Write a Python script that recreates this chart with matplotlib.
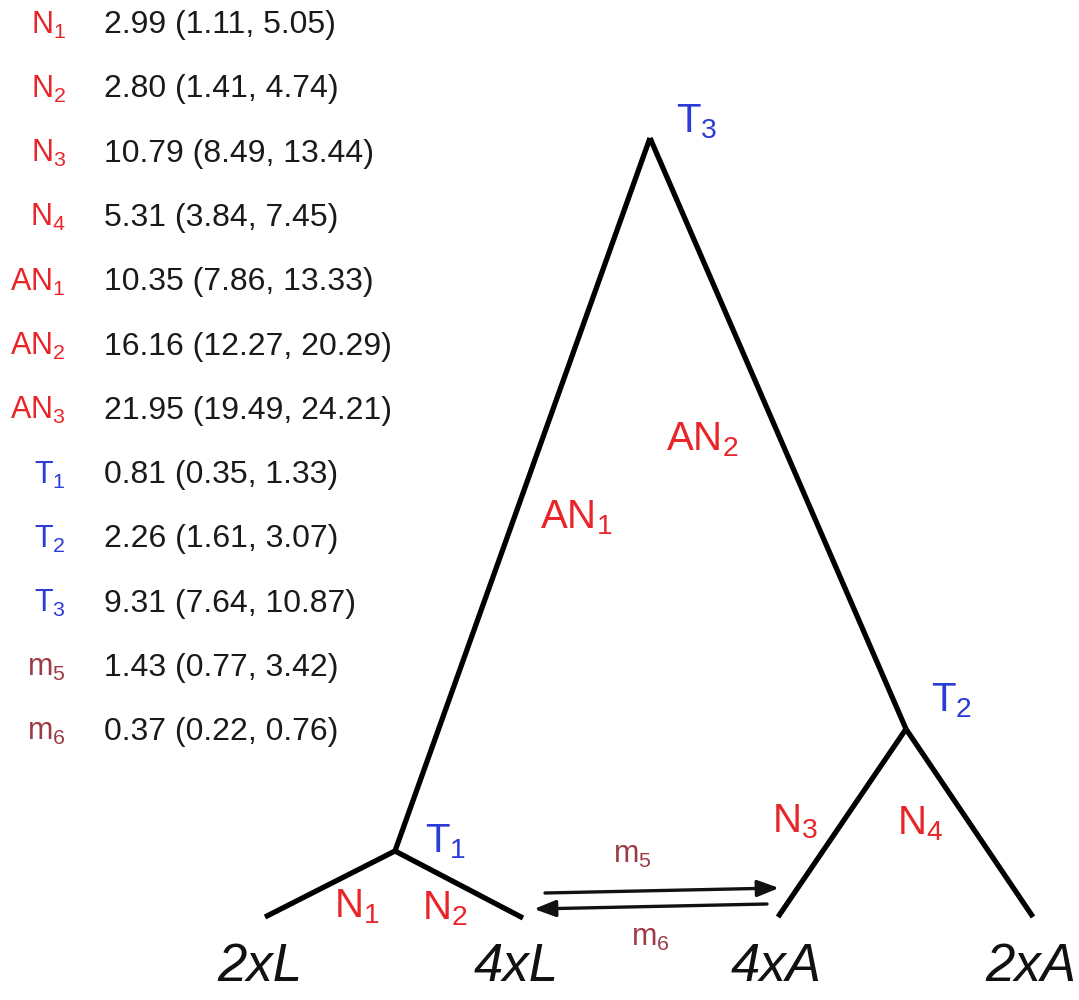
import matplotlib
matplotlib.use("Agg")
import matplotlib.pyplot as plt

plt.rcParams['font.family'] = ['Liberation Sans', 'DejaVu Sans']
plt.rcParams['mathtext.default'] = 'regular'

# ---- data ----
param_names = ["N$_1$", "N$_2$", "N$_3$", "N$_4$", "AN$_1$", "AN$_2$", "AN$_3$",
               "T$_1$", "T$_2$", "T$_3$", "m$_5$", "m$_6$"]
param_kind = ["N", "N", "N", "N", "N", "N", "N", "T", "T", "T", "m", "m"]
estimates = ["2.99", "2.80", "10.79", "5.31", "10.35", "16.16", "21.95",
             "0.81", "2.26", "9.31", "1.43", "0.37"]
ci_low = ["1.11", "1.41", "8.49", "3.84", "7.86", "12.27", "19.49",
          "0.35", "1.61", "7.64", "0.77", "0.22"]
ci_high = ["5.05", "4.74", "13.44", "7.45", "13.33", "20.29", "24.21",
           "1.33", "3.07", "10.87", "3.42", "0.76"]
populations = ["2xL", "4xL", "4xA", "2xA"]

RED = "#e8262a"
BLUE = "#2b3bd6"
MRED = "#9c3a45"
kind_color = {"N": RED, "T": BLUE, "m": MRED}

# ---- layout (pixel space) ----
W, H = 1079, 1000
fig = plt.figure(figsize=(W / 100, H / 100), dpi=100)
ax = fig.add_axes([0, 0, 1, 1])
ax.set_xlim(0, W)
ax.set_ylim(H, 0)
ax.axis("off")

# legend table
row0, dy = 25, 64.3
for i, (nm, k, e, lo, hi) in enumerate(zip(param_names, param_kind, estimates, ci_low, ci_high)):
    y = row0 + i * dy
    ax.text(66, y, nm, color=kind_color[k], fontsize=22, ha="right", va="center")
    ax.text(104, y, f"{e} ({lo}, {hi})", color="#1a1a1a", fontsize=23,
            ha="left", va="center")

# tree
nodes = {
    "T3": (650, 138), "T1": (395, 851), "T2": (906, 729),
    "2xL": (265, 917), "4xL": (523, 918), "4xA": (778, 917), "2xA": (1033, 917),
}
edges = [("T3", "T1"), ("T3", "T2"), ("T1", "2xL"), ("T1", "4xL"),
         ("T2", "4xA"), ("T2", "2xA")]
for a, b in edges:
    (x0, y0), (x1, y1) = nodes[a], nodes[b]
    ax.plot([x0, x1], [y0, y1], color="black", lw=3.8, solid_capstyle="butt",
            solid_joinstyle="miter")

# branch labels
tree_labels = [
    ("T$_3$", 697, 122, BLUE), ("AN$_2$", 702, 440, RED), ("AN$_1$", 576, 518, RED),
    ("T$_2$", 952, 701, BLUE), ("N$_3$", 795, 822, RED), ("N$_4$", 920, 824, RED),
    ("T$_1$", 446, 842, BLUE), ("N$_1$", 357, 907, RED), ("N$_2$", 445, 909, RED),
]
for txt, x, y, c in tree_labels:
    ax.text(x, y, txt, color=c, fontsize=29, ha="center", va="center")

# migration arrows
astyle = "-|>,head_length=1.3,head_width=0.5"
ax.annotate("", xy=(779, 888), xytext=(545, 893),
            arrowprops=dict(arrowstyle=astyle, color="#111111", lw=2.4,
                            shrinkA=0, shrinkB=0))
ax.annotate("", xy=(534, 909), xytext=(767, 904),
            arrowprops=dict(arrowstyle=astyle, color="#111111", lw=2.4,
                            shrinkA=0, shrinkB=0))
ax.text(632, 855, "m$_5$", color=MRED, fontsize=22, ha="center", va="center")
ax.text(650, 938, "m$_6$", color=MRED, fontsize=22, ha="center", va="center")

# population tip labels
tip_x = [260, 516, 776, 1031]
for p, x in zip(populations, tip_x):
    ax.text(x, 967, p, color="#111111", fontsize=38, style="italic",
            ha="center", va="center")

fig.savefig("out.png", dpi=100, facecolor="white")
